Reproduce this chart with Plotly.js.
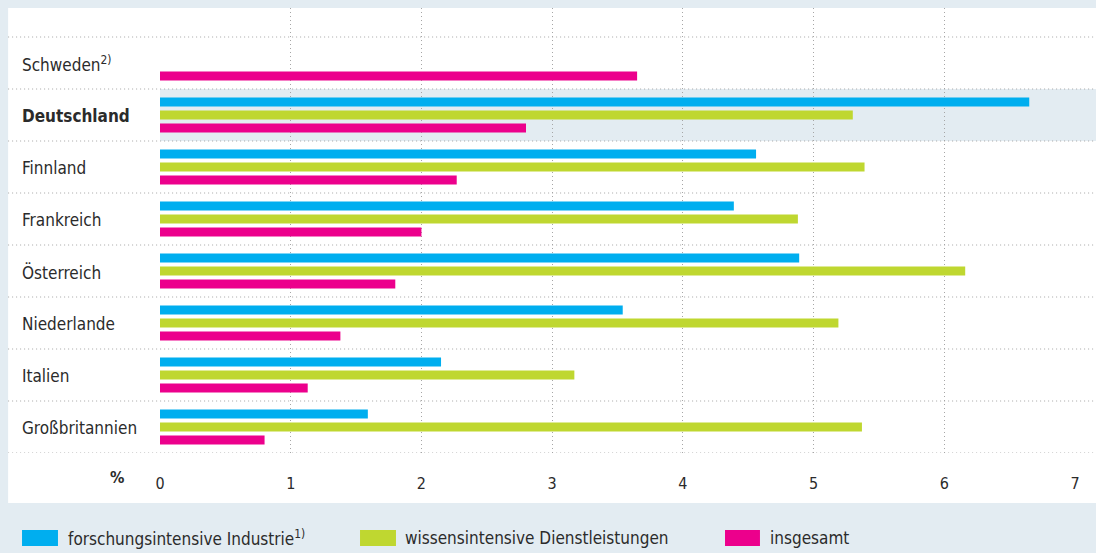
<!DOCTYPE html>
<html>
<head>
<meta charset="utf-8">
<script src="https://cdn.plot.ly/plotly-3.0.1.min.js"></script>
<style>html,body{margin:0;padding:0;background:#e3ecf2;}#chart{width:1096px;height:553px;}</style>
</head>
<body>
<div id="chart"></div>
<script>
const countries = ["Schweden", "Deutschland", "Finnland", "Frankreich", "Österreich", "Niederlande", "Italien", "Großbritannien"];
const countryLabels = ["Schweden<sup>2)</sup>", "<b>Deutschland</b>", "Finnland", "Frankreich", "Österreich", "Niederlande", "Italien", "Großbritannien"];
const industrie = [null, 6.65, 4.56, 4.39, 4.89, 3.54, 2.15, 1.59];
const dienstleistungen = [null, 5.30, 5.39, 4.88, 6.16, 5.19, 3.17, 5.37];
const insgesamt = [3.65, 2.80, 2.27, 2.00, 1.80, 1.38, 1.13, 0.80];
const seriesNames = ["forschungsintensive Industrie<sup>1)</sup>", "wissensintensive Dienstleistungen", "insgesamt"];
const seriesColors = ["#00aeef", "#bfd730", "#ec008c"];
const tickVals = [0, 1, 2, 3, 4, 5, 6, 7];

const FONT = '"DejaVu Sans Condensed", "Liberation Sans Narrow", sans-serif';
const TXT = '#2b2b2b';
const GRID = '#a6a6a6';
const DOT = '1px,3px';

const traces = [industrie, dienstleistungen, insgesamt].map((vals, i) => ({
  type: 'bar', orientation: 'h', x: vals, y: countries, name: seriesNames[i],
  marker: {color: seriesColors[i], line: {width: 0}}, hoverinfo: 'x+y', showlegend: false
}));

const shapes = [];
const annotations = [];
// white panel
shapes.push({type: 'rect', xref: 'paper', yref: 'paper', x0: -0.166, x1: 1.03, y0: -0.1124, y1: 1.0,
  fillcolor: '#ffffff', line: {width: 0}, layer: 'below'});
// highlight band for Deutschland
shapes.push({type: 'rect', xref: 'paper', yref: 'y', x0: 0, x1: 1.03, y0: 0.5, y1: 1.5,
  fillcolor: '#e3ecf2', line: {width: 0}, layer: 'below'});
// horizontal dotted separators
for (let k = -0.5; k <= 7.5; k += 1) {
  shapes.push({type: 'line', xref: 'paper', yref: 'y', x0: -0.166, x1: 1.03, y0: k, y1: k,
    line: {color: GRID, width: 1, dash: DOT}, layer: 'above'});
}
// country labels
countries.forEach((c, i) => {
  annotations.push({xref: 'paper', yref: 'y', x: -0.153, y: c, xanchor: 'left', yanchor: 'middle', yshift: -1,
    text: countryLabels[i], showarrow: false, font: {family: FONT, size: 17, color: TXT}});
});
// % label
annotations.push({xref: 'paper', yref: 'paper', x: -0.047, y: -0.056, xanchor: 'center', yanchor: 'middle',
  text: '<b>%</b>', showarrow: false, font: {family: FONT, size: 16, color: TXT}});
// custom legend
const legX = [[-0.1508, -0.1115, -0.1027], [0.2186, 0.2579, 0.2656], [0.6175, 0.6557, 0.6645]];
seriesNames.forEach((n, i) => {
  shapes.push({type: 'rect', xref: 'paper', yref: 'paper', x0: legX[i][0], x1: legX[i][1], y0: -0.209, y1: -0.173,
    fillcolor: seriesColors[i], line: {width: 0}});
  annotations.push({xref: 'paper', yref: 'paper', x: legX[i][2], y: -0.191, xanchor: 'left', yanchor: 'middle',
    text: n, showarrow: false, font: {family: FONT, size: 17, color: TXT}});
});

const layout = {
  width: 1096, height: 553,
  margin: {l: 160, r: 21, t: 8, b: 100, pad: 0},
  paper_bgcolor: '#e3ecf2', plot_bgcolor: 'rgba(0,0,0,0)',
  barmode: 'group', bargap: 0.25, bargroupgap: 0.31,
  font: {family: FONT, color: TXT},
  xaxis: {range: [0, 7], tickvals: tickVals, ticktext: tickVals.map(String), showgrid: true,
    gridcolor: GRID, griddash: DOT, gridwidth: 1, zeroline: false, showline: false,
    ticks: 'outside', ticklen: 16, tickcolor: 'rgba(0,0,0,0)', tickfont: {family: FONT, size: 16, color: TXT},
    fixedrange: true},
  yaxis: {type: 'category', categoryorder: 'array', categoryarray: countries,
    range: [7.5, -1.058], showticklabels: false, showgrid: false, zeroline: false, showline: false, ticks: '',
    fixedrange: true},
  shapes: shapes, annotations: annotations, showlegend: false
};

Plotly.newPlot('chart', traces, layout, {displayModeBar: false, staticPlot: true});
</script>
</body>
</html>
